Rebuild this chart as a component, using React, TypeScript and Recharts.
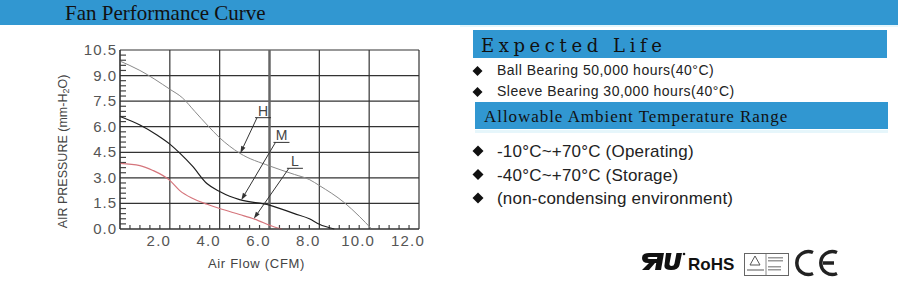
import React from 'react';
import { LineChart, Line, XAxis, YAxis, CartesianGrid, ReferenceLine } from 'recharts';

// axis ticks
const xTicks = [2, 4, 6, 8, 10, 12];
const yTicks = [0, 1.5, 3, 4.5, 6, 7.5, 9, 10.5];
const xMinorTicks = [0.4, 0.8, 1.2, 1.6, 2.4, 2.8, 3.2, 3.6, 4.4, 4.8, 5.2, 5.6, 6.4, 6.8, 7.2, 7.6, 8.4, 8.8, 9.2, 9.6, 10.4, 10.8, 11.2, 11.6];
const yMinorTicks = [0.3, 0.6, 0.9, 1.2, 1.8, 2.1, 2.4, 2.7, 3.3, 3.6, 3.9, 4.2, 4.8, 5.1, 5.4, 5.7, 6.3, 6.6, 6.9, 7.2, 7.8, 8.1, 8.4, 8.7, 9.3, 9.6, 9.9, 10.2];

// fan curves (CFM vs mm-H2O)
const highFlow = [0, 0.8, 2.0, 2.5, 3.0, 3.5, 4.0, 4.8, 6.0, 7.0, 7.6, 8.0, 9.0, 9.6, 10.1];
const highPressure = [9.85, 9.3, 8.2, 7.7, 6.9, 6.1, 5.35, 4.45, 3.7, 3.2, 2.9, 2.55, 1.55, 0.75, 0];
const midFlow = [0, 0.8, 1.5, 2.0, 2.4, 2.9, 3.5, 4.0, 4.4, 4.8, 6.0, 7.0, 7.6, 8.0, 8.6];
const midPressure = [6.6, 6.1, 5.5, 4.98, 4.45, 3.7, 2.65, 2.2, 1.92, 1.72, 1.4, 0.9, 0.6, 0.28, 0];
const lowFlow = [0, 0.8, 1.3, 2.0, 2.4, 2.9, 3.5, 4.0, 4.8, 5.4, 6.2, 6.5];
const lowPressure = [3.85, 3.72, 3.45, 2.85, 2.25, 1.8, 1.45, 1.2, 0.85, 0.58, 0.12, 0];

// H / M / L callouts
const curveLabels = ['H', 'M', 'L'];
const labelFlow = [5.5, 6.24, 6.78];
const labelPressure = [6.53, 5.08, 3.56];
const tipFlow = [4.83, 4.87, 5.37];
const tipPressure = [4.45, 1.7, 0.6];

const lifeItems = ['Ball Bearing 50,000 hours(40°C)', 'Sleeve Bearing 30,000 hours(40°C)'];
const tempItems = ['-10°C~+70°C (Operating)', '-40°C~+70°C (Storage)', '(non-condensing environment)'];

const toPoints = (flow: number[], pressure: number[]) => flow.map((f, i) => ({ flow: f, p: pressure[i] }));

const BLUE = '#3197d1';
const SANS = '"Liberation Sans", Arial, sans-serif';

// two reference points inside the plot; the segment between them gives the scale
const REF_A = { x: 1, y: 1 };
const REF_B = { x: 11, y: 9.5 };

const XTick = (props: any) => {
  const { x, y, payload } = props;
  return (
    <text x={x - 11} y={y} dy={11} textAnchor="middle" fontSize={15} fill="#555" letterSpacing={1.2} fontFamily={SANS}>
      {Number(payload.value).toFixed(1)}
    </text>
  );
};

const YTick = (props: any) => {
  const { x, y, payload } = props;
  return (
    <text x={x} y={y} dy={5} textAnchor="end" fontSize={15} fill="#555" letterSpacing={1} fontFamily={SANS}>
      {Number(payload.value).toFixed(1)}
    </text>
  );
};

// minor axis ticks + the heavier 6.0 line, placed with the chart's scale
const AxisMarks = (props: any) => {
  const { x1, y1, x2, y2 } = props;
  const px = (v: number) => x1 + ((v - REF_A.x) * (x2 - x1)) / (REF_B.x - REF_A.x);
  const py = (v: number) => y1 + ((v - REF_A.y) * (y2 - y1)) / (REF_B.y - REF_A.y);
  const bottom = py(0);
  const left = px(0);
  return (
    <g>
      <line x1={px(6)} y1={py(0)} x2={px(6)} y2={py(10.5)} stroke="#666" strokeWidth={2.4} />
      {xMinorTicks.map((v) => (
        <line key={`x${v}`} x1={px(v)} y1={bottom} x2={px(v)} y2={bottom - 4} stroke="#444" strokeWidth={1.2} />
      ))}
      {yMinorTicks.map((v) => (
        <line key={`y${v}`} x1={left} y1={py(v)} x2={left + 6} y2={py(v)} stroke="#444" strokeWidth={1.2} />
      ))}
    </g>
  );
};

const Leader = (props: any) => {
  const { x1, y1, x2, y2, letter } = props;
  const dx = x2 - x1;
  const dy = y2 - y1;
  const len = Math.hypot(dx, dy) || 1;
  const ux = dx / len;
  const uy = dy / len;
  const bx = x2 - ux * 7;
  const by = y2 - uy * 7;
  const arrow = `${x2},${y2} ${bx - uy * 2.3},${by + ux * 2.3} ${bx + uy * 2.3},${by - ux * 2.3}`;
  return (
    <g>
      <line x1={x1} y1={y1} x2={bx} y2={by} stroke="#333" strokeWidth={1} />
      <polygon points={arrow} fill="#333" />
      <line x1={x1 - 2} y1={y1} x2={x1 + 14} y2={y1} stroke="#333" strokeWidth={1} />
      <text x={x1 + 6} y={y1 - 2} textAnchor="middle" fontSize={14} fill="#444" fontFamily={SANS}>
        {letter}
      </text>
    </g>
  );
};

const FanCurve = () => (
  <LineChart width={400} height={250} margin={{ top: 20, right: 21, bottom: 11, left: 0 }}>
    <CartesianGrid stroke="#333" strokeWidth={1.2} />
    <XAxis
      dataKey="flow"
      type="number"
      domain={[0, 12]}
      ticks={xTicks}
      interval={0}
      height={40}
      stroke="#333"
      tickLine={false}
      tickSize={0}
      tickMargin={6}
      tick={XTick}
      label={(p: any) => (
        <text
          x={p.viewBox.x + p.viewBox.width / 2 - 13}
          y={p.viewBox.y + 39}
          textAnchor="middle"
          fontSize={13}
          letterSpacing={0.7}
          fill="#444"
          fontFamily={SANS}
        >
          Air Flow (CFM)
        </text>
      )}
    />
    <YAxis
      type="number"
      domain={[0, 10.5]}
      ticks={yTicks}
      interval={0}
      width={80}
      stroke="#333"
      tickLine={false}
      tickSize={0}
      tickMargin={3}
      tick={YTick}
      label={(p: any) => {
        const cx = p.viewBox.x + 26.5;
        const cy = p.viewBox.y + p.viewBox.height / 2 + 12;
        return (
          <text x={cx} y={cy} transform={`rotate(-90, ${cx}, ${cy})`} textAnchor="middle" fontSize={12.5} fill="#444" fontFamily={SANS}>
            AIR PRESSURE (mm-H<tspan fontSize={9} dy={2}>2</tspan>
            <tspan dy={-2}>O)</tspan>
          </text>
        );
      }}
    />
    <ReferenceLine segment={[REF_A, REF_B]} shape={(p: any) => <AxisMarks {...p} />} />
    <Line data={toPoints(highFlow, highPressure)} dataKey="p" type="monotone" dot={false} stroke="#8a8a8a" strokeWidth={1} isAnimationActive={false} />
    <Line data={toPoints(midFlow, midPressure)} dataKey="p" type="monotone" dot={false} stroke="#1e1e1e" strokeWidth={1.2} isAnimationActive={false} />
    <Line data={toPoints(lowFlow, lowPressure)} dataKey="p" type="monotone" dot={false} stroke="#d5757c" strokeWidth={1.2} isAnimationActive={false} />
    {curveLabels.map((name, i) => (
      <ReferenceLine
        key={name}
        segment={[
          { x: labelFlow[i], y: labelPressure[i] },
          { x: tipFlow[i], y: tipPressure[i] },
        ]}
        shape={(p: any) => <Leader {...p} letter={name} />}
      />
    ))}
  </LineChart>
);

const Panels = () => (
  <svg width={898} height={285} style={{ position: 'absolute', left: 0, top: 0 }}>
    <rect x={0} y={0} width={898} height={25} fill={BLUE} />
    <text x={65} y={20} fontSize={21} fontFamily='"Liberation Serif", serif' fill="#111">
      Fan Performance Curve
    </text>

    <rect x={460} y={25} width={438} height={2} fill="#e6f6fb" />
    <rect x={473} y={30} width={414} height={28} fill={BLUE} />
    <text x={481} y={52} fontSize={18} letterSpacing={4.6} fontFamily='"DejaVu Serif", serif' fill="#111">
      Expected Life
    </text>
    {lifeItems.map((t, i) => (
      <g key={t}>
        <polygon points={`${472.5},${71 + i * 21} ${477.5},${66 + i * 21} ${482.5},${71 + i * 21} ${477.5},${76 + i * 21}`} fill="#111" />
        <text x={497} y={75 + i * 21} fontSize={14} letterSpacing={0.5} fontFamily={SANS} fill="#222">
          {t}
        </text>
      </g>
    ))}

    <rect x={475} y={102} width={413} height={27} fill={BLUE} />
    <text x={484} y={122} fontSize={17} letterSpacing={0.95} fontFamily='"Liberation Serif", serif' fill="#111">
      Allowable Ambient Temperature Range
    </text>
    <rect x={475} y={130} width={413} height={3} fill="#e6f6fb" />
    {tempItems.map((t, i) => (
      <g key={t}>
        <polygon
          points={`${472.5},${151 + i * 23.5} ${478},${145.5 + i * 23.5} ${483.5},${151 + i * 23.5} ${478},${156.5 + i * 23.5}`}
          fill="#111"
        />
        <text x={497} y={157 + i * 23.5} fontSize={17} letterSpacing={0.2} fontFamily={SANS} fill="#222">
          {t}
        </text>
      </g>
    ))}

    {/* certification marks */}
    <g fill="#111">
      <path d="M658,253 L664,253 L661,270 L655,270 Z" />
      <path d="M658,253 L649,253 Q642,253 642,258 Q642,263 648,263 L657,263 L657.8,259 L650,259 Q647.5,259 647.5,258 Q647.5,257 650,257 L658,257 Z" />
      <path d="M649,263 L655,263 L649,270 L642,270 Z" />
      <path d="M666,253 L671.5,253 L669.5,263.5 Q669,266 671.5,266 Q674,266 674.5,263.5 L676.5,253 L682,253 L679.5,265 Q678.5,270 671,270 Q663.5,270 664.5,265 Z" />
      <circle cx={684} cy={254} r={1.3} />
    </g>
    <text x={688} y={270} fontSize={17} fontWeight="bold" fontFamily={SANS} fill="#111">
      RoHS
    </text>
    <rect x={744.5} y={253.5} width={44} height={22} fill="none" stroke="#666" />
    <line x1={766} y1={254} x2={766} y2={275} stroke="#888" />
    <polygon points="755,256 750,265 760,265" fill="none" stroke="#555" />
    <rect x={747} y={269} width={17} height={2} fill="#aaa" />
    <rect x={768} y={257} width={15} height={1.5} fill="#999" />
    <rect x={768} y={260} width={15} height={1.5} fill="#999" />
    <rect x={768} y={266} width={13} height={1.5} fill="#999" />
    <rect x={768} y={269} width={13} height={1.5} fill="#999" />
    <g fill="none" stroke="#222" strokeWidth={3.5}>
      <path d="M813,252.5 A11.5 11.5 0 1 0 813,273.5" />
      <path d="M837,252.5 A11.5 11.5 0 1 0 837,273.5" />
      <path d="M823,263 L834,263" />
    </g>
  </svg>
);

export default function App() {
  return (
    <div style={{ position: 'absolute', left: 0, top: 0, width: 898, height: 285, background: '#fff', overflow: 'hidden' }}>
      <Panels />
      <div style={{ position: 'absolute', left: 40, top: 30, width: 400, height: 250 }}>
        <FanCurve />
      </div>
    </div>
  );
}
